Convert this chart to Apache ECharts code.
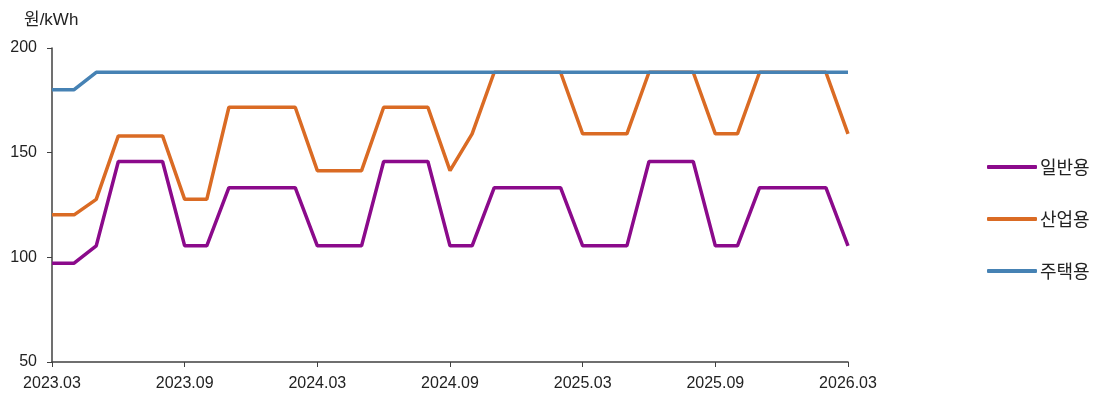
<!DOCTYPE html>
<html>
<head>
<meta charset="utf-8">
<script src="https://cdn.jsdelivr.net/npm/echarts@6/dist/echarts.min.js"></script>
<style>
  html, body { margin: 0; padding: 0; background: #fff; }
  #chart { width: 1096px; height: 394px; }
</style>
</head>
<body>
<div id="chart"></div>
<script>
// months 2023.03 .. 2026.03
const months = []
for (let y = 2023; y <= 2026; y++) {
  for (let m = 1; m <= 12; m++) {
    if ((y === 2023 && m < 3) || (y === 2026 && m > 3)) continue
    months.push(y + '.' + String(m).padStart(2, '0'))
  }
}

const seriesNames = ['일반용', '산업용', '주택용']

const general = [97.2, 97.2, 105.5, 145.8, 145.8, 145.8, 105.5, 105.5, 133.3, 133.3, 133.3, 133.3,
  105.5, 105.5, 105.5, 145.8, 145.8, 145.8, 105.5, 105.5, 133.3, 133.3, 133.3, 133.3,
  105.5, 105.5, 105.5, 145.8, 145.8, 145.8, 105.5, 105.5, 133.3, 133.3, 133.3, 133.3, 105.5]

const industrial = [120.3, 120.3, 127.7, 158, 158, 158, 127.7, 127.7, 171.7, 171.7, 171.7, 171.7,
  141.4, 141.4, 141.4, 171.7, 171.7, 171.7, 141.4, 159, 188.4, 188.4, 188.4, 188.4,
  159, 159, 159, 188.4, 188.4, 188.4, 159, 159, 188.4, 188.4, 188.4, 188.4, 159]

const residential = [180.1, 180.1, 188.4, 188.4, 188.4, 188.4, 188.4, 188.4, 188.4, 188.4, 188.4, 188.4,
  188.4, 188.4, 188.4, 188.4, 188.4, 188.4, 188.4, 188.4, 188.4, 188.4, 188.4, 188.4,
  188.4, 188.4, 188.4, 188.4, 188.4, 188.4, 188.4, 188.4, 188.4, 188.4, 188.4, 188.4, 188.4]

const colors = ['#8B0A8B', '#DA6B24', '#4682B4']
const font = '"Liberation Sans", "Noto Sans CJK KR", sans-serif'
const axisColor = '#404040'

const chart = echarts.init(document.getElementById('chart'))

chart.setOption({
  animation: false,
  color: colors,
  textStyle: { fontFamily: font },
  title: {
    text: '원/kWh',
    left: 19,
    top: 7,
    textStyle: { fontSize: 17, fontWeight: 'normal', color: '#222', fontFamily: font }
  },
  grid: { left: 52, right: 248, top: 48, bottom: 32 },
  legend: {
    orient: 'vertical',
    left: 982,
    top: 153,
    itemWidth: 50,
    itemHeight: 4,
    itemGap: 34,
    icon: 'roundRect',
    data: seriesNames,
    textStyle: { fontSize: 18, color: '#222', fontFamily: '"Noto Sans CJK KR", sans-serif', padding: [0, 0, 0, -2] }
  },
  xAxis: {
    type: 'category',
    data: months,
    boundaryGap: false,
    axisLine: { lineStyle: { color: axisColor, width: 1.5 } },
    axisTick: { interval: 5, length: 5, lineStyle: { color: axisColor } },
    axisLabel: { interval: 5, fontSize: 16, color: '#222', margin: 14 }
  },
  yAxis: {
    type: 'value',
    min: 50,
    max: 200,
    interval: 50,
    splitLine: { show: false },
    axisLine: { show: true, lineStyle: { color: axisColor, width: 1.5 } },
    axisTick: { show: true, length: 5, lineStyle: { color: axisColor } },
    axisLabel: { fontSize: 16, color: '#222', margin: 15 }
  },
  series: [
    { name: seriesNames[0], type: 'line', data: general },
    { name: seriesNames[1], type: 'line', data: industrial },
    { name: seriesNames[2], type: 'line', data: residential }
  ].map(s => ({
    ...s,
    showSymbol: false,
    symbol: 'none',
    lineStyle: { width: 3.5 }
  }))
})
</script>
</body>
</html>
